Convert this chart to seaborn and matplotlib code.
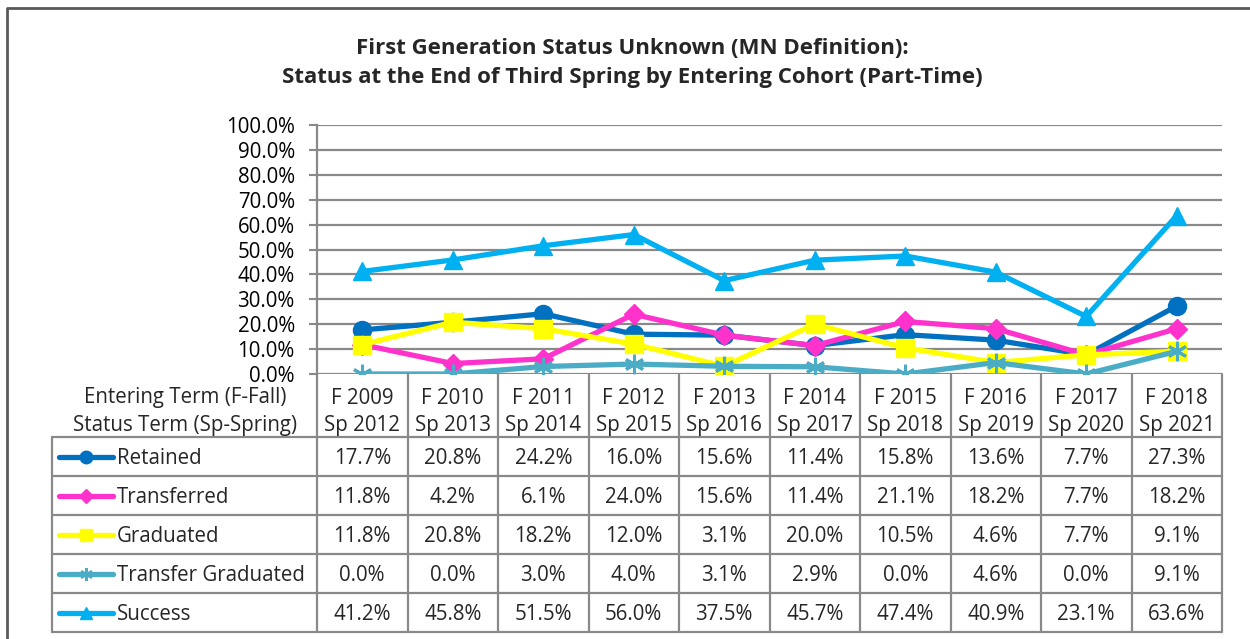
import numpy as np
import pandas as pd
import matplotlib
matplotlib.use("Agg")
import matplotlib.pyplot as plt
import matplotlib.transforms as mtransforms
from matplotlib.lines import Line2D
import seaborn as sns

# ---- data ----
entering_terms = ["F 2009", "F 2010", "F 2011", "F 2012", "F 2013",
                  "F 2014", "F 2015", "F 2016", "F 2017", "F 2018"]
status_terms = ["Sp 2012", "Sp 2013", "Sp 2014", "Sp 2015", "Sp 2016",
                "Sp 2017", "Sp 2018", "Sp 2019", "Sp 2020", "Sp 2021"]
retained = [17.7, 20.8, 24.2, 16.0, 15.6, 11.4, 15.8, 13.6, 7.7, 27.3]
transferred = [11.8, 4.2, 6.1, 24.0, 15.6, 11.4, 21.1, 18.2, 7.7, 18.2]
graduated = [11.8, 20.8, 18.2, 12.0, 3.1, 20.0, 10.5, 4.6, 7.7, 9.1]
transfer_graduated = [0.0, 0.0, 3.0, 4.0, 3.1, 2.9, 0.0, 4.6, 0.0, 9.1]
success = [41.2, 45.8, 51.5, 56.0, 37.5, 45.7, 47.4, 40.9, 23.1, 63.6]

series_names = ["Retained", "Transferred", "Graduated", "Transfer Graduated", "Success"]
series_values = [retained, transferred, graduated, transfer_graduated, success]
colors = ["#0070C0", "#FF33CC", "#FFFF00", "#4BACC6", "#00B0F0"]
markers = ["o", "D", "s", (6, 2, 0), "^"]
marker_sizes = [13, 10, 13, 14, 13]

W, H = 1250, 639
sns.set_theme(style="white")
plt.rcParams["font.family"] = ["Open Sans", "DejaVu Sans"]

fig = plt.figure(figsize=(W / 100, H / 100), dpi=100)
fig.patch.set_facecolor("white")


def fx(px):
    return px / W


def fy(py):
    return 1 - py / H


ax_left, ax_right, ax_top, ax_bottom = 317, 1222, 125, 374
ax = fig.add_axes([fx(ax_left), fy(ax_bottom), fx(ax_right) - fx(ax_left),
                   fy(ax_top) - fy(ax_bottom)])

grid_col = "#898989"
txt_size = 14.8

rows = []
for name, vals in zip(series_names, series_values):
    for i, v in enumerate(vals):
        rows.append({"series": name, "idx": i, "value": v})
df = pd.DataFrame(rows)

for name, col, mk, ms in zip(series_names, colors, markers, marker_sizes):
    sub = df[df["series"] == name]
    sns.lineplot(data=sub, x="idx", y="value", ax=ax, color=col, marker=mk,
                 markersize=ms, markeredgecolor=col,
                 markeredgewidth=2.2 if name == "Transfer Graduated" else 1,
                 linewidth=3.8, legend=False, sort=False, zorder=3)

ax.set_xlim(-0.5, len(entering_terms) - 0.5)
ax.set_ylim(0, 100)
ax.set_yticks(np.arange(0, 101, 10))
ax.set_yticklabels([f"{t:.1f}%" for t in np.arange(0, 101, 10)],
                   fontsize=txt_size, color="black")
ax.yaxis.grid(True, color=grid_col, linewidth=1.6)
ax.xaxis.grid(False)
ax.set_xticks([])
ax.set_xlabel("")
ax.set_ylabel("")
ax.tick_params(axis="y", which="both", left=True, length=6, width=1.5,
               color=grid_col, pad=10)
for s in ["top", "right", "bottom"]:
    ax.spines[s].set_visible(False)
ax.spines["left"].set_color(grid_col)
ax.spines["left"].set_linewidth(1.6)
ax.set_axisbelow(True)

# ---- data table below the axes ----
bt = mtransforms.blended_transform_factory(ax.transData, fig.transFigure)
table_top = 437
row_h = 39
n_rows = len(series_names)
table_bottom = table_top + row_h * n_rows
legend_left = 52

line_kw = dict(color=grid_col, linewidth=1.6, zorder=1)

# vertical column separators (between categories)
for k in range(len(entering_terms) + 1):
    xb = -0.5 + k
    fig.add_artist(Line2D([xb, xb], [fy(ax_bottom), fy(table_bottom)],
                          transform=bt, **line_kw))
# horizontal row separators
for r in range(n_rows + 1):
    yy = fy(table_top + r * row_h)
    fig.add_artist(Line2D([fx(legend_left), fx(ax_right)], [yy, yy],
                          transform=fig.transFigure, **line_kw))
# left border of the legend column
fig.add_artist(Line2D([fx(legend_left), fx(legend_left)],
                      [fy(table_top), fy(table_bottom)],
                      transform=fig.transFigure, **line_kw))

# category header labels
for i, (e, s) in enumerate(zip(entering_terms, status_terms)):
    fig.text(i, fy(398), e, transform=bt, ha="center", va="center",
             fontsize=txt_size)
    fig.text(i, fy(426), s, transform=bt, ha="center", va="center",
             fontsize=txt_size)
fig.text(fx(185), fy(398), "Entering Term (F-Fall)", ha="center", va="center",
         fontsize=txt_size)
fig.text(fx(185), fy(426), "Status Term (Sp-Spring)", ha="center", va="center",
         fontsize=txt_size)

# value cells and legend keys
for r, (name, vals, col, mk) in enumerate(zip(series_names, series_values,
                                               colors, markers)):
    yc = fy(table_top + r * row_h + row_h / 2 + 2)
    yk = fy(table_top + r * row_h + row_h / 2)
    for i, v in enumerate(vals):
        fig.text(i, yc, f"{v:.1f}%", transform=bt, ha="center", va="center",
                 fontsize=txt_size)
    fig.add_artist(Line2D([fx(59), fx(113)], [yk, yk], transform=fig.transFigure,
                          color=col, linewidth=3.8, zorder=3))
    fig.add_artist(Line2D([fx(86)], [yk], transform=fig.transFigure,
                          color=col, marker=mk,
                          markersize=9 if mk != "D" else 7,
                          markeredgecolor=col,
                          markeredgewidth=1.8 if name == "Transfer Graduated" else 1,
                          linestyle="none", zorder=4))
    fig.text(fx(117), yc, name, ha="left", va="center", fontsize=txt_size)

# title
fig.text(fx(632), fy(48), "First Generation Status Unknown (MN Definition):",
         ha="center", va="center", fontsize=16, fontweight="bold")
fig.text(fx(632), fy(78),
         "Status at the End of Third Spring by Entering Cohort (Part-Time)",
         ha="center", va="center", fontsize=16, fontweight="bold")

# chart frame
fig.add_artist(Line2D([fx(7), fx(7), fx(1260)], [fy(650), fy(8), fy(8)],
                      transform=fig.transFigure, color="#595959", linewidth=2))

fig.savefig("out.png", dpi=100, facecolor="white")
